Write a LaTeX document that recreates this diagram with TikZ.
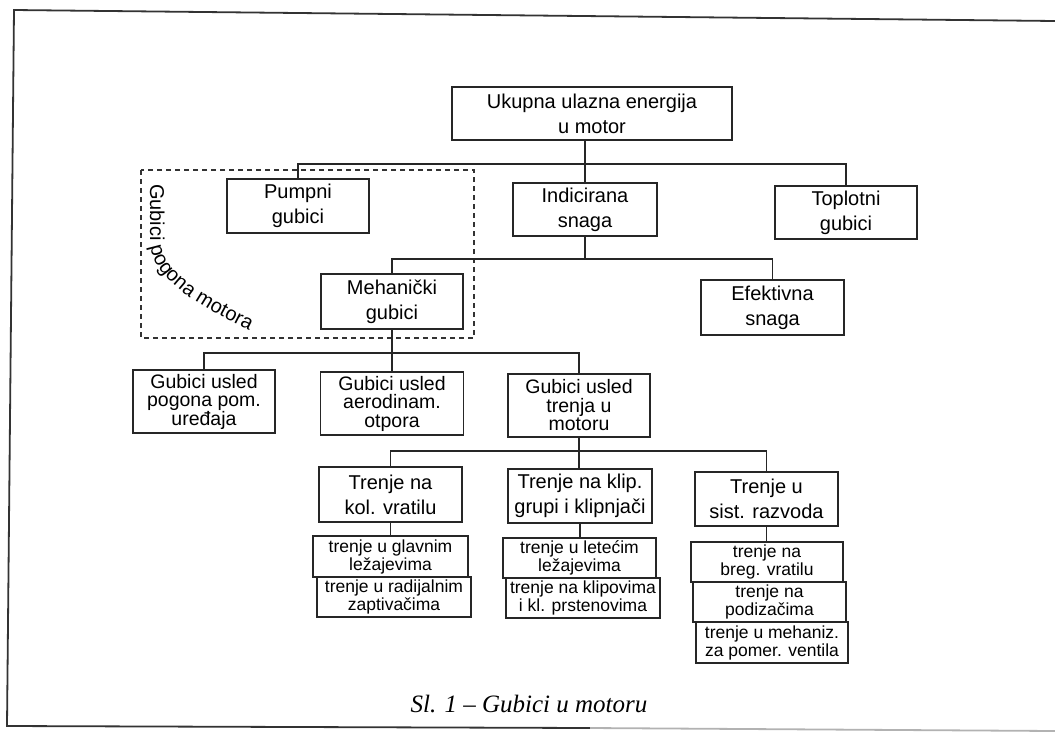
\documentclass[tikz,border=0pt]{standalone}
\usepackage{fontspec}
\setmainfont{Liberation Sans}
\newfontfamily\capfont{Liberation Serif}
\usetikzlibrary{decorations.text}
\begin{document}
\begin{tikzpicture}[x=1pt,y=-1pt,
  box/.style={draw=black!85, line width=1.5pt, inner sep=0pt, align=center,
    font=\fontsize{20}{25}\selectfont},
  tribox/.style={box, font=\fontsize{19.5}{18.5}\selectfont},
  subbox/.style={draw=black!85, line width=1.4pt, inner sep=0pt, align=center,
    fill=white, font=\fontsize{17.5}{18}\selectfont, minimum height=40pt},
  conn/.style={draw=black!85, line width=1.3pt},
  frame/.style={draw=black!80, line width=1.8pt},
  grp/.style={draw=black!80, line width=1.5pt, dash pattern=on 5pt off 4pt}]
\useasboundingbox (0,0) rectangle (1055,732);
% outer frame
\coordinate (f1) at (14,10);
\coordinate (f2) at (1055,21);
\coordinate (f3) at (7,726);
\coordinate (f4) at (590,728);
\coordinate (f5) at (1055,731);
\draw[frame] (f2) -- (f1) -- (f3) -- (f4);
\draw[frame, draw=black!30] (f4) -- (f5);
% dashed group
\draw[grp] (141,170) rectangle (474,338);
\path[decorate, decoration={text along path, text align=left,
   text={|\fontsize{20}{20}\selectfont|Gubici pogona motora}}]
   (150,184) -- (150,240) .. controls (150,284) and (211,311) .. (262,337);
% boxes
\node[box, minimum width=280pt, minimum height=53pt] (top) at (592,113.5) {Ukupna ulazna energija\\u motor};
\node[box, minimum width=142pt, minimum height=54pt] (pump) at (298,206) {Pumpni\\gubici};
\node[box, minimum width=144pt, minimum height=53pt] (ind) at (585,209.5) {Indicirana\\snaga};
\node[box, minimum width=142pt, minimum height=53pt] (topl) at (846,212.5) {Toplotni\\gubici};
\node[box, minimum width=142pt, minimum height=55pt] (meh) at (392,301.5) {Mehanički\\gubici};
\node[box, minimum width=143pt, minimum height=55pt] (ef) at (772.5,307.5) {Efektivna\\snaga};
\node[tribox, minimum width=142pt, minimum height=63pt] (gpog) at (204,401.5) {Gubici usled\\pogona pom.\\uređaja};
\node[tribox, minimum width=143pt, minimum height=63pt] (gaer) at (392,403.5) {Gubici usled\\aerodinam.\\otpora};
\node[tribox, minimum width=142pt, minimum height=63pt] (gtr) at (579,405.5) {Gubici usled\\trenja u\\motoru};
\node[box, minimum width=143pt, minimum height=55pt] (tkol) at (390.5,494.5) {Trenje na\\kol. vratilu};
\node[box, minimum width=144pt, minimum height=54pt] (tklip) at (580,496) {Trenje na klip.\\grupi i klipnjači};
\node[box, minimum width=143pt, minimum height=54pt] (trazv) at (766.5,499) {Trenje u\\sist. razvoda};
\node[subbox, minimum width=154pt] (s2) at (394,597) {trenje u radijalnim\\zaptivačima};
\node[subbox, minimum width=155pt, minimum height=41pt] (s1) at (390.5,556.5) {trenje u glavnim\\ležajevima};
\node[subbox, minimum width=154pt] (s4) at (583,598) {trenje na klipovima\\i kl. prstenovima};
\node[subbox, minimum width=153pt] (s3) at (579.5,558) {trenje u letećim\\ležajevima};
\node[subbox, minimum width=152pt, minimum height=41pt] (s7) at (772,642.5) {trenje u mehaniz.\\za pomer. ventila};
\node[subbox, minimum width=153pt] (s6) at (769.5,602) {trenje na\\podizačima};
\node[subbox, minimum width=152pt] (s5) at (767,562) {trenje na\\breg. vratilu};
% connectors
\coordinate (b1) at (585,164);
\coordinate (b2) at (585,259);
\coordinate (b3) at (392,353);
\coordinate (b4) at (579,451);
\draw[conn] (top.south -| ind.north) -- (ind.north);
\draw[conn] (pump.north) |- (b1) -| (topl.north);
\draw[conn] (ind.south) -- (b2);
\draw[conn] (meh.north) |- (b2) -| (ef.north);
\draw[conn] (meh.south) -- (meh.south |- gaer.north);
\draw[conn] (gpog.north) |- (b3) -| (gtr.north);
\draw[conn] (gtr.south) -- (gtr.south |- tklip.north);
\draw[conn] (tkol.north) |- (b4) -| (trazv.north);
\draw[conn] (tkol.south) -- (tkol.south |- s1.north);
\draw[conn] (tklip.south) -- (tklip.south |- s3.north);
\draw[conn] (trazv.south) -- (trazv.south |- s5.north);
% caption
\node[font=\capfont\itshape\fontsize{25}{25}\selectfont] (cap) at (529,704) {Sl. 1 – Gubici u motoru};
\end{tikzpicture}
\end{document}
